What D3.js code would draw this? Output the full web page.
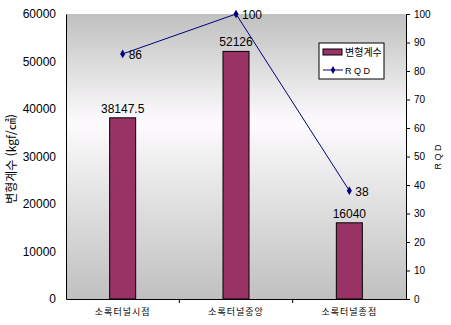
<!DOCTYPE html>
<html lang="ko">
<head>
<meta charset="UTF-8">
<script src="https://d3js.org/d3.v7.min.js"></script>
<style>
    body { margin: 0; background: #fff; }
    text { font-family: "Liberation Sans", Arial, sans-serif; }
    .kr { font-family: "Noto Sans CJK KR", sans-serif; }
</style>
</head>
<body>
<div id="chart"></div>
<script>
    const categories = ["소록터널시점", "소록터널중앙", "소록터널종점"];
    const modulus = [38147.5, 52126, 16040];
    const rqd = [86, 100, 38];
    const leftTicks = [0, 10000, 20000, 30000, 40000, 50000, 60000];
    const rightTicks = [0, 10, 20, 30, 40, 50, 60, 70, 80, 90, 100];

    const W = 451, H = 325;
    const margin = { top: 14, right: 45, bottom: 26, left: 66 };
    const width = W - margin.left - margin.right,
        height = H - margin.top - margin.bottom;

    const svg = d3.select("#chart").append("svg")
        .attr("width", W).attr("height", H);

    // background gradient of the plot area
    const grad = svg.append("defs").append("linearGradient")
        .attr("id", "bg").attr("x1", 0).attr("y1", 0).attr("x2", 0).attr("y2", 1);
    grad.append("stop").attr("offset", "0%").attr("stop-color", "#c0c0c0");
    grad.append("stop").attr("offset", "38%").attr("stop-color", "#fdfbfd");
    grad.append("stop").attr("offset", "100%").attr("stop-color", "#c0c0c0");

    const g = svg.append("g").attr("transform", `translate(${margin.left},${margin.top})`);

    g.append("rect").attr("width", width).attr("height", height).attr("fill", "url(#bg)");

    const x = d3.scaleBand().domain(categories).range([0, width]);
    const y = d3.scaleLinear().domain([0, 60000]).range([height, 0]);
    const y2 = d3.scaleLinear().domain([0, 100]).range([height, 0]);

    const barW = 26;

    // bars
    g.selectAll(".bar").data(modulus).enter().append("rect")
        .attr("x", (d, i) => x(categories[i]) + x.bandwidth() / 2 - barW / 2)
        .attr("y", d => y(d))
        .attr("width", barW)
        .attr("height", d => height - y(d))
        .attr("fill", "#993366")
        .attr("stroke", "#000").attr("stroke-width", 1);

    g.selectAll(".barlabel").data(modulus).enter().append("text")
        .attr("x", (d, i) => x(categories[i]) + x.bandwidth() / 2)
        .attr("y", d => y(d) - 5)
        .attr("text-anchor", "middle")
        .style("font-size", "12px")
        .text(d => d);

    // RQD line
    const cx = i => x(categories[i]) + x.bandwidth() / 2;
    const line = d3.line().x((d, i) => cx(i)).y(d => y2(d));
    g.append("path").datum(rqd).attr("d", line)
        .attr("fill", "none").attr("stroke", "#000080").attr("stroke-width", 1);

    g.selectAll(".pt").data(rqd).enter().append("path")
        .attr("d", d3.symbol().type(d3.symbolDiamond).size(22))
        .attr("transform", (d, i) => `translate(${cx(i)},${y2(d)})`)
        .attr("fill", "#000080");

    g.selectAll(".ptlabel").data(rqd).enter().append("text")
        .attr("x", (d, i) => cx(i) + 6)
        .attr("y", d => y2(d) + 5)
        .style("font-size", "12px")
        .text(d => d);

    // axes
    const yAxis = g.append("g").call(d3.axisLeft(y).tickValues(leftTicks)
        .tickFormat(d3.format("d")).tickSize(0).tickPadding(10));
    yAxis.select(".domain").attr("stroke", "#000");
    yAxis.selectAll("text").style("font-size", "12px").style("font-family", "Liberation Sans, Arial, sans-serif");

    const y2Axis = g.append("g").attr("transform", `translate(${width},0)`)
        .call(d3.axisRight(y2).tickValues(rightTicks).tickSize(4).tickPadding(4));
    y2Axis.select(".domain").attr("stroke", "#000");
    y2Axis.selectAll("text").style("font-size", "10px").style("font-family", "Liberation Sans, Arial, sans-serif");

    const xAxis = g.append("g").attr("transform", `translate(0,${height})`)
        .call(d3.axisBottom(x).tickSize(0).tickPadding(10));
    xAxis.select(".domain").attr("stroke", "#000");
    xAxis.selectAll("text").attr("class", "kr").style("font-size", "9px")
        .style("font-family", "Noto Sans CJK KR, sans-serif").style("letter-spacing", "1px");
    // boundary ticks between categories
    g.selectAll(".xtick").data(categories.slice(1)).enter().append("line")
        .attr("x1", d => x(d)).attr("x2", d => x(d))
        .attr("y1", height).attr("y2", height + 4)
        .attr("stroke", "#000");

    // axis titles
    svg.append("text").attr("class", "kr")
        .attr("transform", `translate(16,${margin.top + 145}) rotate(-90)`)
        .attr("text-anchor", "middle")
        .style("font-size", "12px")
        .text("변형계수 (kgf/㎠)");

    svg.append("text")
        .attr("transform", `translate(441,${margin.top + 143}) rotate(-90)`)
        .attr("text-anchor", "middle")
        .style("font-size", "9px")
        .text("R Q D");

    // legend
    const lg = svg.append("g").attr("transform", "translate(319,43)");
    lg.append("rect").attr("width", 65).attr("height", 36)
        .attr("fill", "#fff").attr("stroke", "#000");
    lg.append("rect").attr("x", 4).attr("y", 6).attr("width", 19).attr("height", 6)
        .attr("fill", "#993366").attr("stroke", "#000");
    lg.append("text").attr("class", "kr").attr("x", 26).attr("y", 13)
        .style("font-size", "10px").text("변형계수");
    lg.append("line").attr("x1", 4).attr("x2", 24).attr("y1", 27).attr("y2", 27)
        .attr("stroke", "#000080");
    lg.append("path").attr("d", d3.symbol().type(d3.symbolDiamond).size(18))
        .attr("transform", "translate(14,27)").attr("fill", "#000080");
    lg.append("text").attr("x", 26).attr("y", 31)
        .style("font-size", "9px").text("R Q D");
</script>
</body>
</html>
